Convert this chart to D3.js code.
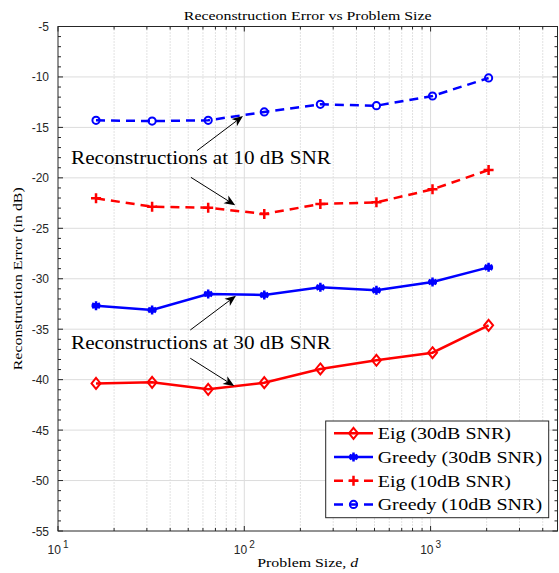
<html>
<head>
  <meta charset="utf-8">
  <script src="https://d3js.org/d3.v7.min.js"></script>
  <style>
    body { margin: 0; background: #fff; }
    .tick-label { font-family: "Liberation Sans", Arial, sans-serif; font-size: 12px; fill: #262626; }
    .cm { font-family: "Liberation Serif", "Times New Roman", serif; fill: #000; }
  </style>
</head>
<body>
<script>
// problem sizes on the log x axis
var sizes = [16, 32, 64, 128, 256, 512, 1024, 2048];

// reconstruction error (dB) per series
var eig30    = [-40.37, -40.27, -40.96, -40.30, -38.94, -38.08, -37.33, -34.62];
var greedy30 = [-32.67, -33.10, -31.51, -31.61, -30.85, -31.15, -30.32, -28.87];
var eig10    = [-22.03, -22.86, -22.96, -23.58, -22.59, -22.43, -21.14, -19.22];
var greedy10 = [-14.30, -14.37, -14.30, -13.47, -12.71, -12.85, -11.89, -10.10];

var seriesNames = ["Eig (30dB SNR)", "Greedy (30dB SNR)", "Eig (10dB SNR)", "Greedy (10dB SNR)"];

var yTicks = [-55, -50, -45, -40, -35, -30, -25, -20, -15, -10, -5];
var xMajor = [10, 100, 1000];

// annotation texts and arrows, in data units (x = problem size, y = dB)
var noteTexts = ["Reconstructions at 10 dB SNR", "Reconstructions at 30 dB SNR"];
var notePos = [[11.75, -18.63], [11.75, -36.96]];
var arrowsData = [
  [55.7, -17.31, 98.4, -13.87],
  [51.7, -19.95, 89.4, -22.72],
  [51.3, -35.08, 90.2, -31.68],
  [51.3, -37.88, 88.3, -40.63]
];

(function () {
  var W = 559, H = 573;
  var pL = 58, pR = 557.5, pT = 26.5, pB = 531;
  var axisCol = "#262626";
  var stretch = 1.176; // serif text is drawn wider, like the LaTeX font

  var x = d3.scaleLog().domain([10, 4800]).range([pL, pR]);
  var y = d3.scaleLinear().domain([-55, -5]).range([pB, pT]);

  var svg = d3.select("body").append("svg")
    .attr("width", W).attr("height", H);

  function widen(sel) {
    sel.each(function () {
      var w = this.getComputedTextLength();
      d3.select(this).attr("textLength", w * stretch).attr("lengthAdjust", "spacingAndGlyphs");
    });
  }

  // minor x values 20..90, 200..900, 2000..4000
  var xMinor = [];
  [10, 100, 1000].forEach(function (d) {
    for (var k = 2; k <= 9; k++) if (d * k < 4800) xMinor.push(d * k);
  });
  var yMinor = d3.range(-55, -4, 1).filter(function (v) { return v % 5 !== 0; });

  // grid
  var grid = svg.append("g");
  grid.selectAll(".xminor").data(xMinor).enter().append("line")
    .attr("x1", function (d) { return x(d); }).attr("x2", function (d) { return x(d); })
    .attr("y1", pT).attr("y2", pB)
    .attr("stroke", "#c4c4c4").attr("stroke-width", 1).attr("stroke-dasharray", "1,2");
  grid.selectAll(".xmajor").data(xMajor.slice(1)).enter().append("line")
    .attr("x1", function (d) { return x(d); }).attr("x2", function (d) { return x(d); })
    .attr("y1", pT).attr("y2", pB)
    .attr("stroke", "#dcdcdc").attr("stroke-width", 1);
  grid.selectAll(".ymajor").data(yTicks.slice(1, -1)).enter().append("line")
    .attr("x1", pL).attr("x2", pR)
    .attr("y1", function (d) { return y(d); }).attr("y2", function (d) { return y(d); })
    .attr("stroke", "#dcdcdc").attr("stroke-width", 1);

  // series
  var series = [
    { name: seriesNames[0], vals: eig30, color: "#ff0000", dash: null, marker: "diamond" },
    { name: seriesNames[1], vals: greedy30, color: "#0000ff", dash: null, marker: "star" },
    { name: seriesNames[2], vals: eig10, color: "#ff0000", dash: "9,6", marker: "plus" },
    { name: seriesNames[3], vals: greedy10, color: "#0000ff", dash: "9,6", marker: "circle" }
  ];

  var line = d3.line()
    .x(function (d) { return x(d[0]); })
    .y(function (d) { return y(d[1]); });

  function drawMarker(g, type, cx, cy, color) {
    if (type === "diamond") {
      g.append("path")
        .attr("d", "M" + cx + "," + (cy - 5.5) + "L" + (cx + 4.5) + "," + cy + "L" + cx + "," + (cy + 5.5) + "L" + (cx - 4.5) + "," + cy + "Z")
        .attr("fill", "none").attr("stroke", color).attr("stroke-width", 2);
    } else if (type === "circle") {
      g.append("circle").attr("cx", cx).attr("cy", cy).attr("r", 3.6)
        .attr("fill", "none").attr("stroke", color).attr("stroke-width", 2);
    } else if (type === "plus") {
      g.append("path")
        .attr("d", "M" + (cx - 5) + "," + cy + "H" + (cx + 5) + "M" + cx + "," + (cy - 5) + "V" + (cy + 5))
        .attr("stroke", color).attr("stroke-width", 2.5);
    } else if (type === "star") {
      var r = 4.5, p = "";
      [0, 60, 120].forEach(function (a) {
        var t = a * Math.PI / 180;
        p += "M" + (cx - r * Math.sin(t)) + "," + (cy - r * Math.cos(t)) + "L" + (cx + r * Math.sin(t)) + "," + (cy + r * Math.cos(t));
      });
      p += "M" + (cx - r) + "," + cy + "H" + (cx + r);
      g.append("path").attr("d", p).attr("stroke", color).attr("stroke-width", 2.5);
      g.append("circle").attr("cx", cx).attr("cy", cy).attr("r", 3).attr("fill", color);
    }
  }

  var plot = svg.append("g");
  series.forEach(function (s) {
    var pts = sizes.map(function (d, i) { return [d, s.vals[i]]; });
    plot.append("path").datum(pts)
      .attr("d", line)
      .attr("fill", "none")
      .attr("stroke", s.color)
      .attr("stroke-width", 2.5)
      .attr("stroke-dasharray", s.dash);
    pts.forEach(function (p) { drawMarker(plot, s.marker, x(p[0]), y(p[1]), s.color); });
  });

  // annotations
  var ann = svg.append("g");
  arrowsData.forEach(function (a) {
    var x1 = x(a[0]), y1 = y(a[1]), x2 = x(a[2]), y2 = y(a[3]);
    var ang = Math.atan2(y2 - y1, x2 - x1);
    var hl = 11, hw = 4.5, back = 3;
    var bx = x2 - hl * Math.cos(ang), by = y2 - hl * Math.sin(ang);
    var nx = -Math.sin(ang), ny = Math.cos(ang);
    var ix = x2 - (hl - back) * Math.cos(ang), iy = y2 - (hl - back) * Math.sin(ang);
    ann.append("line").attr("x1", x1).attr("y1", y1).attr("x2", ix).attr("y2", iy)
      .attr("stroke", "#000").attr("stroke-width", 1);
    ann.append("path")
      .attr("d", "M" + x2 + "," + y2 + "L" + (bx + nx * hw) + "," + (by + ny * hw) + "L" + ix + "," + iy + "L" + (bx - nx * hw) + "," + (by - ny * hw) + "Z")
      .attr("fill", "#000");
  });
  ann.selectAll("text.note").data(noteTexts).enter().append("text")
    .attr("class", "cm note")
    .attr("x", function (d, i) { return x(notePos[i][0]); })
    .attr("y", function (d, i) { return y(notePos[i][1]); })
    .style("font-size", "18px")
    .text(function (d) { return d; })
    .call(widen);

  // axes box and ticks
  var ax = svg.append("g");
  ax.append("rect").attr("x", pL).attr("y", pT)
    .attr("width", pR - pL).attr("height", pB - pT)
    .attr("fill", "none").attr("stroke", axisCol).attr("stroke-width", 1);

  function vtick(v, len) {
    var px = x(v);
    ax.append("line").attr("x1", px).attr("x2", px).attr("y1", pB).attr("y2", pB - len).attr("stroke", axisCol);
    ax.append("line").attr("x1", px).attr("x2", px).attr("y1", pT).attr("y2", pT + len).attr("stroke", axisCol);
  }
  function htick(v, len) {
    var py = y(v);
    ax.append("line").attr("x1", pL).attr("x2", pL + len).attr("y1", py).attr("y2", py).attr("stroke", axisCol);
    ax.append("line").attr("x1", pR).attr("x2", pR - len).attr("y1", py).attr("y2", py).attr("stroke", axisCol);
  }
  xMinor.forEach(function (v) { vtick(v, 3); });
  xMajor.forEach(function (v) { vtick(v, 5); });
  yMinor.forEach(function (v) { htick(v, 3); });
  yTicks.forEach(function (v) { htick(v, 5); });

  ax.selectAll("text.ylab").data(yTicks).enter().append("text")
    .attr("class", "tick-label")
    .attr("x", pL - 9)
    .attr("y", function (d) { return y(d) + 4.5; })
    .attr("text-anchor", "end")
    .text(function (d) { return d; });

  var xl = ax.selectAll("text.xlab").data(xMajor).enter().append("text")
    .attr("class", "tick-label")
    .attr("x", function (d) { return x(d); })
    .attr("y", 554)
    .attr("text-anchor", "middle");
  xl.append("tspan").text("10");
  xl.append("tspan").attr("dx", 2).attr("dy", -6).style("font-size", "10px")
    .text(function (d) { return Math.round(Math.log10(d)); });

  // title and axis labels
  svg.append("text").attr("class", "cm")
    .attr("x", (pL + pR) / 2).attr("y", 19.5)
    .attr("text-anchor", "middle").style("font-size", "13.5px")
    .text("Receonstruction Error vs Problem Size").call(widen);

  var xlab = svg.append("text").attr("class", "cm")
    .attr("x", (pL + pR) / 2).attr("y", 567)
    .attr("text-anchor", "middle").style("font-size", "13.5px");
  xlab.append("tspan").text("Problem Size, ");
  xlab.append("tspan").style("font-style", "italic").text("d");
  xlab.call(widen);

  svg.append("text").attr("class", "cm")
    .attr("transform", "translate(22," + ((pT + pB) / 2) + ") rotate(-90)")
    .attr("text-anchor", "middle").style("font-size", "13.5px")
    .text("Reconstruction Error (in dB)").call(widen);

  // legend
  var lg = svg.append("g");
  var lx = 325.7, ly = 421, lw = 223, lh = 96.7, rowH = 23.7;
  lg.append("rect").attr("x", lx).attr("y", ly).attr("width", lw).attr("height", lh)
    .attr("fill", "#fff").attr("stroke", axisCol).attr("stroke-width", 1);
  series.forEach(function (s, i) {
    var ry = ly + 12.3 + i * rowH;
    lg.append("line").attr("x1", lx + 8.3).attr("x2", lx + 47.3)
      .attr("y1", ry).attr("y2", ry)
      .attr("stroke", s.color).attr("stroke-width", 2.5)
      .attr("stroke-dasharray", s.dash);
    drawMarker(lg, s.marker, lx + 27.8, ry, s.color);
    lg.append("text").attr("class", "cm")
      .attr("x", lx + 52).attr("y", ry + 6)
      .style("font-size", "17px")
      .text(s.name).call(widen);
  });
})();
</script>
</body>
</html>
